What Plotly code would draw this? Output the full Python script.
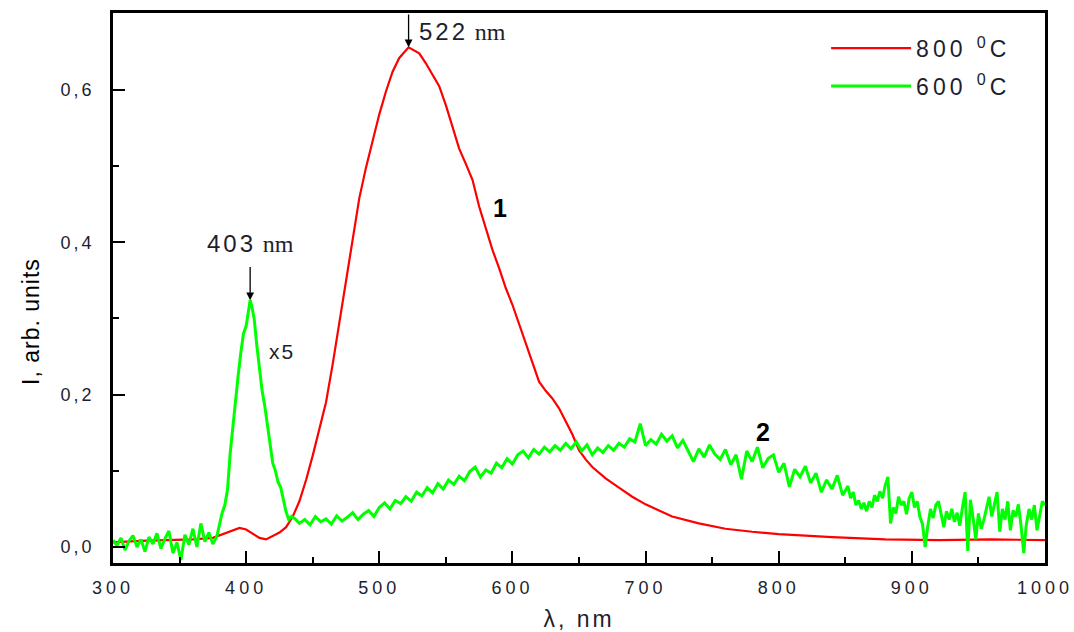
import plotly.graph_objects as go

# Photoluminescence spectra of films annealed at 800 and 600 degC (600 degC curve scaled x5)

# 800 degC spectrum
wl_800 = [300, 320, 340, 360, 375, 385, 390, 395, 400, 405,
          410, 415, 420, 425, 430, 435, 440, 445, 450, 455,
          460, 465, 470, 475, 480, 485, 490, 495, 500, 505,
          510, 515, 522, 530, 535, 540, 545, 550, 555, 560,
          565, 570, 575, 580, 585, 590, 595, 600, 605, 610,
          615, 620, 625, 630, 635, 640, 645, 650, 655, 660,
          665, 670, 680, 690, 700, 710, 720, 740, 760, 780,
          800, 840, 880, 920, 960, 1000]
i_800 = [0.006, 0.008, 0.009, 0.010, 0.012, 0.018, 0.022, 0.025, 0.023, 0.018,
         0.012, 0.010, 0.014, 0.019, 0.026, 0.040, 0.060, 0.088, 0.120, 0.155,
         0.190, 0.240, 0.295, 0.350, 0.405, 0.458, 0.498, 0.535, 0.568, 0.598,
         0.624, 0.642, 0.656, 0.648, 0.635, 0.620, 0.605, 0.580, 0.553, 0.523,
         0.503, 0.482, 0.447, 0.418, 0.390, 0.366, 0.340, 0.318, 0.292, 0.268,
         0.240, 0.217, 0.205, 0.195, 0.182, 0.165, 0.148, 0.127, 0.115, 0.105,
         0.097, 0.090, 0.078, 0.066, 0.056, 0.048, 0.040, 0.031, 0.024, 0.020,
         0.017, 0.013, 0.010, 0.009, 0.010, 0.009]

# 600 degC spectrum (x5): UV baseline, 403 nm band, broad visible band, noisy red tail
wl_600_uv = list(range(300, 379, 3))
i_600_uv = [0.009, 0.002, 0.012, -0.004, 0.008, 0.015, 0.000, 0.010, -0.006, 0.013,
            0.004, 0.018, -0.002, 0.011, 0.021, -0.008, 0.006, -0.017, 0.016, 0.003,
            0.024, 0.000, 0.031, 0.007, 0.019, 0.004, 0.014]

wl_600_band = [380, 382, 384, 386, 388, 390, 392, 394, 396, 398,
               400, 402, 403, 404, 406, 408, 410, 412, 414, 416,
               418, 420, 422, 424, 426, 428, 430, 432, 434]
i_600_band = [0.030, 0.045, 0.055, 0.075, 0.123, 0.160, 0.190, 0.225, 0.255, 0.280,
              0.290, 0.310, 0.324, 0.318, 0.300, 0.265, 0.235, 0.205, 0.185, 0.160,
              0.130, 0.110, 0.100, 0.085, 0.078, 0.060, 0.046, 0.036, 0.040]

wl_600_vis = list(range(436, 853, 4))
i_600_vis = [0.038, 0.031, 0.036, 0.029, 0.040, 0.033, 0.037, 0.030, 0.041, 0.034,
             0.039, 0.045, 0.036, 0.043, 0.048, 0.040, 0.052, 0.058, 0.050, 0.061,
             0.057, 0.066, 0.060, 0.072, 0.067, 0.078, 0.071, 0.083, 0.076, 0.088,
             0.082, 0.093, 0.087, 0.099, 0.105, 0.092, 0.101, 0.097, 0.110, 0.104,
             0.116, 0.109, 0.121, 0.126, 0.117, 0.128, 0.122, 0.131, 0.125, 0.133,
             0.127, 0.136, 0.129, 0.138, 0.126, 0.134, 0.121, 0.130, 0.124, 0.133,
             0.127, 0.136, 0.131, 0.142, 0.138, 0.162, 0.133, 0.141, 0.135, 0.148,
             0.139, 0.146, 0.130, 0.140, 0.126, 0.112, 0.129, 0.118, 0.134, 0.122,
             0.115, 0.128, 0.108, 0.121, 0.089, 0.126, 0.112, 0.131, 0.104, 0.116,
             0.121, 0.098, 0.110, 0.079, 0.102, 0.092, 0.106, 0.084, 0.097, 0.072,
             0.088, 0.076, 0.094, 0.068, 0.080]

wl_600_tail = list(range(854, 1001, 2))
i_600_tail = [0.064, 0.072, 0.055, 0.061, 0.050, 0.058, 0.047, 0.060, 0.052, 0.068,
              0.060, 0.073, 0.064, 0.081, 0.092, 0.031, 0.052, 0.044, 0.066, 0.055,
              0.060, 0.043, 0.064, 0.072, 0.052, 0.060, 0.040, 0.030, 0.000, 0.028,
              0.050, 0.038, 0.055, 0.060, 0.043, 0.026, 0.047, 0.036, 0.050, 0.033,
              0.045, 0.028, 0.052, 0.072, -0.005, 0.062, 0.038, 0.010, 0.044, 0.024,
              0.035, 0.052, 0.066, 0.040, 0.058, 0.072, 0.020, 0.050, 0.036, 0.060,
              0.022, 0.048, 0.040, 0.056, 0.028, -0.008, 0.030, 0.050, 0.036, 0.055,
              0.022, 0.042, 0.060, 0.055]

wl_600 = wl_600_uv + wl_600_band + wl_600_vis + wl_600_tail
i_600 = i_600_uv + i_600_band + i_600_vis + i_600_tail

x_ticks = [300, 400, 500, 600, 700, 800, 900, 1000]
x_tick_labels = ["300", "400", "500", "600", "700", "800", "900", "1000"]
y_ticks = [0.0, 0.2, 0.4, 0.6]
y_tick_labels = ["0,0", "0,2", "0,4", "0,6"]
x_range = [300, 1000]
y_range = [-0.021, 0.701]

SANS = "Arial, Liberation Sans, sans-serif"
SERIF = "Liberation Serif, Times New Roman, serif"
INK = "#1e1e2e"


def spaced(text, px=3):
    """Wrap text in a span with extra letter spacing."""
    return f'<span style="letter-spacing:{px}px">{text}</span>'


def nm_label(value):
    return f'{spaced(value, 3)} <span style="font-family:{SERIF}">nm</span>'


k800 = i_800.index(max(i_800))
k600 = wl_600.index(403)

fig = go.Figure()
fig.add_trace(go.Scatter(x=wl_800, y=i_800, mode="lines", legendgroup="t800",
                         name=spaced("800 <sup>0</sup>C", 4),
                         line=dict(color="#ff0000", width=2.2)))
fig.add_trace(go.Scatter(x=wl_600, y=i_600, mode="lines", legendgroup="t600",
                         name=spaced("600 <sup>0</sup>C", 4),
                         line=dict(color="#00ff00", width=3)))

axis_common = dict(
    showline=True, linecolor="black", linewidth=2.5, mirror=True,
    ticks="inside", ticklen=12, tickwidth=2, tickcolor="black",
    showgrid=False, zeroline=False, automargin=False,
    tickfont=dict(family=SANS, size=18, color=INK),
)

fig.update_xaxes(range=x_range, tickvals=x_ticks, ticklabeloverflow="allow",
                 ticktext=[spaced(t, 4) for t in x_tick_labels], ticklabelstandoff=7,
                 minor=dict(ticks="inside", ticklen=6, tickwidth=2, tickcolor="black",
                            dtick=50, tick0=300, showgrid=False),
                 title=dict(text=spaced("λ, nm", 3),
                            font=dict(family=SANS, size=23, color=INK), standoff=14),
                 **axis_common)
fig.update_yaxes(range=y_range, tickvals=y_ticks,
                 ticktext=[spaced(t, 3) for t in y_tick_labels], ticklabelstandoff=12,
                 minor=dict(ticks="inside", ticklen=6, tickwidth=2, tickcolor="black",
                            dtick=0.1, tick0=0, showgrid=False),
                 **axis_common)

annotations = [
    # y-axis label
    dict(xref="paper", yref="paper", x=-0.088, y=0.44, xanchor="center", yanchor="middle",
         text=spaced("I, arb. units", 1), textangle=-90, showarrow=False,
         font=dict(family=SANS, size=23, color="black")),
    # 522 nm peak: arrow from the top frame down to the maximum, label beside it
    dict(x=wl_800[k800], y=i_800[k800], ax=wl_800[k800], ay=y_range[1],
         xref="x", yref="y", axref="x", ayref="y", text="", showarrow=True,
         arrowhead=2, arrowsize=1.2, arrowwidth=1.3, arrowcolor="black"),
    dict(x=wl_800[k800], y=0.677, xref="x", yref="y", xanchor="left", xshift=8,
         text=nm_label(wl_800[k800]), showarrow=False,
         font=dict(family=SANS, size=24, color=INK)),
    # 403 nm peak: label above with arrow to the maximum
    dict(x=wl_600[k600], y=i_600[k600], ax=wl_600[k600], ay=0.399,
         xref="x", yref="y", axref="x", ayref="y", text=nm_label(wl_600[k600]),
         showarrow=True, startstandoff=9,
         arrowhead=2, arrowsize=1.2, arrowwidth=1.3, arrowcolor="black",
         font=dict(family=SANS, size=24, color=INK)),
    dict(x=427, y=0.256, xref="x", yref="y", text=spaced("x5", 2), showarrow=False,
         font=dict(family=SANS, size=21, color=INK)),
    # curve numbers
    dict(x=591, y=0.445, xref="x", yref="y", text="<b>1</b>", showarrow=False,
         font=dict(family=SANS, size=25, color="black")),
    dict(x=788, y=0.151, xref="x", yref="y", text="<b>2</b>", showarrow=False,
         font=dict(family=SANS, size=25, color="black")),
]

fig.update_layout(
    width=1074, height=632,
    margin=dict(l=113, r=29, t=13, b=69),
    paper_bgcolor="white", plot_bgcolor="white",
    showlegend=True,
    legend=dict(x=0.969, y=0.975, xanchor="right", yanchor="top",
                bgcolor="rgba(0,0,0,0)", borderwidth=0, traceorder="grouped",
                font=dict(family=SANS, size=23, color=INK),
                itemwidth=80, tracegroupgap=5),
    annotations=annotations,
)

fig.write_html("out.html")
